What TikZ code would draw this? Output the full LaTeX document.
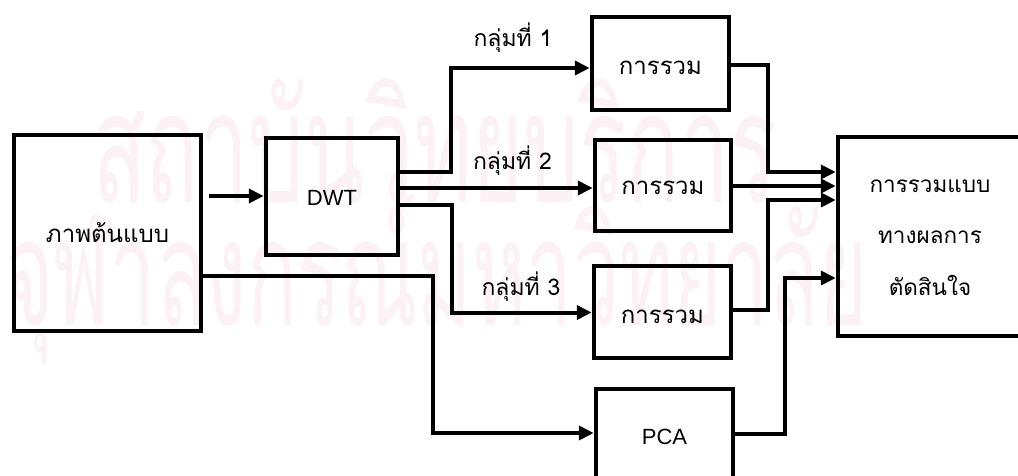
\documentclass[tikz,border=0pt]{standalone}
\usepackage{fontspec}
\setmainfont{Liberation Sans}
\newfontfamily\thaifont[Script=Thai]{Loma}
\usetikzlibrary{arrows.meta}
\definecolor{wmpink}{RGB}{252,242,246}
\begin{document}
\begin{tikzpicture}[x=1pt,y=-1pt,
  box/.style={draw, line width=4.5pt, inner sep=0pt, text depth=0pt,
    font=\thaifont\fontsize{24}{28}\selectfont},
  conn/.style={line width=4pt},
  arr/.style={conn, -{Triangle[length=15pt,width=14pt]}},
  lbl/.style={font=\thaifont\fontsize{23}{26}\selectfont, anchor=base, inner sep=0pt},
  wm/.style={text=wmpink, font=\thaifont\fontsize{110}{120}\selectfont,
    inner sep=0pt, anchor=base west}
]
\path[use as bounding box, clip] (0,0) rectangle (1018,476);

% faint background lettering
\node[wm] (wm1) at (92,203) {\scalebox{0.8}[1.4]{สถาบันวิทยบริการ}};
\node[wm] (wm2) at (5,325) {\scalebox{0.75}[1.35]{จุฬาลงกรณ์มหาวิทยาลัย}};

% blocks
\node[box, minimum width=187pt, minimum height=196pt, text height=18pt] (src) at (107.5,233) {ภาพต้นแบบ};
\node[box, minimum width=132pt, minimum height=117pt, text height=17pt,
  font=\fontsize{22}{26}\selectfont] (dwt) at (332,196.5) {DWT};
\node[box, minimum width=137pt, minimum height=93pt, text height=23pt] (sum1) at (660.5,63.5) {การรวม};
\node[box, minimum width=136pt, minimum height=91pt, text height=19pt] (sum2) at (663,185.5) {การรวม};
\node[box, minimum width=137pt, minimum height=92pt, text height=22pt] (sum3) at (662.5,312) {การรวม};
\node[box, minimum width=137pt, minimum height=141pt, text height=0pt, text depth=31pt,
  font=\fontsize{22}{26}\selectfont] (pca) at (664.5,459.5) {PCA};
\node[box, minimum width=184pt, minimum height=199pt] (fuse) at (930,236.5) {};
\node[font=\thaifont\fontsize{22.5}{51.5}\selectfont, align=center, anchor=base, inner sep=0pt]
  (fusetxt) at (930,295) {การรวมแบบ\\ทางผลการ\\ตัดสินใจ};

% group labels
\node[lbl] (l1) at (513,47) {กลุ่มที่ 1};
\node[lbl] (l2) at (512.5,170) {กลุ่มที่ 2};
\node[lbl] (l3) at (521,295) {กลุ่มที่ 3};

% connectors
\draw[arr] ([xshift=6pt]src.east |- 0,196) -- (dwt.west |- 0,196);
\draw[arr] (dwt.east |- 0,172) -- (451,172) |- (sum1.west |- 0,68);
\draw[arr] (dwt.east |- 0,188) -- (sum2.west |- 0,188);
\draw[arr] (dwt.east |- 0,205) -- (452,205) |- (sum3.west |- 0,312.5);
\draw[arr] (src.east |- 0,276) -- (433,276) |- (pca.west |- 0,433);
\draw[arr] (sum1.east |- 0,65) -- (768,65) |- (fuse.west |- 0,172);
\draw[arr] (sum2.east |- 0,186) -- (fuse.west |- 0,186);
\draw[arr] (sum3.east |- 0,310) -- (768,310) |- (fuse.west |- 0,200);
\draw[arr] (pca.east |- 0,434) -- (785,434) |- (fuse.west |- 0,278);
\end{tikzpicture}
\end{document}
